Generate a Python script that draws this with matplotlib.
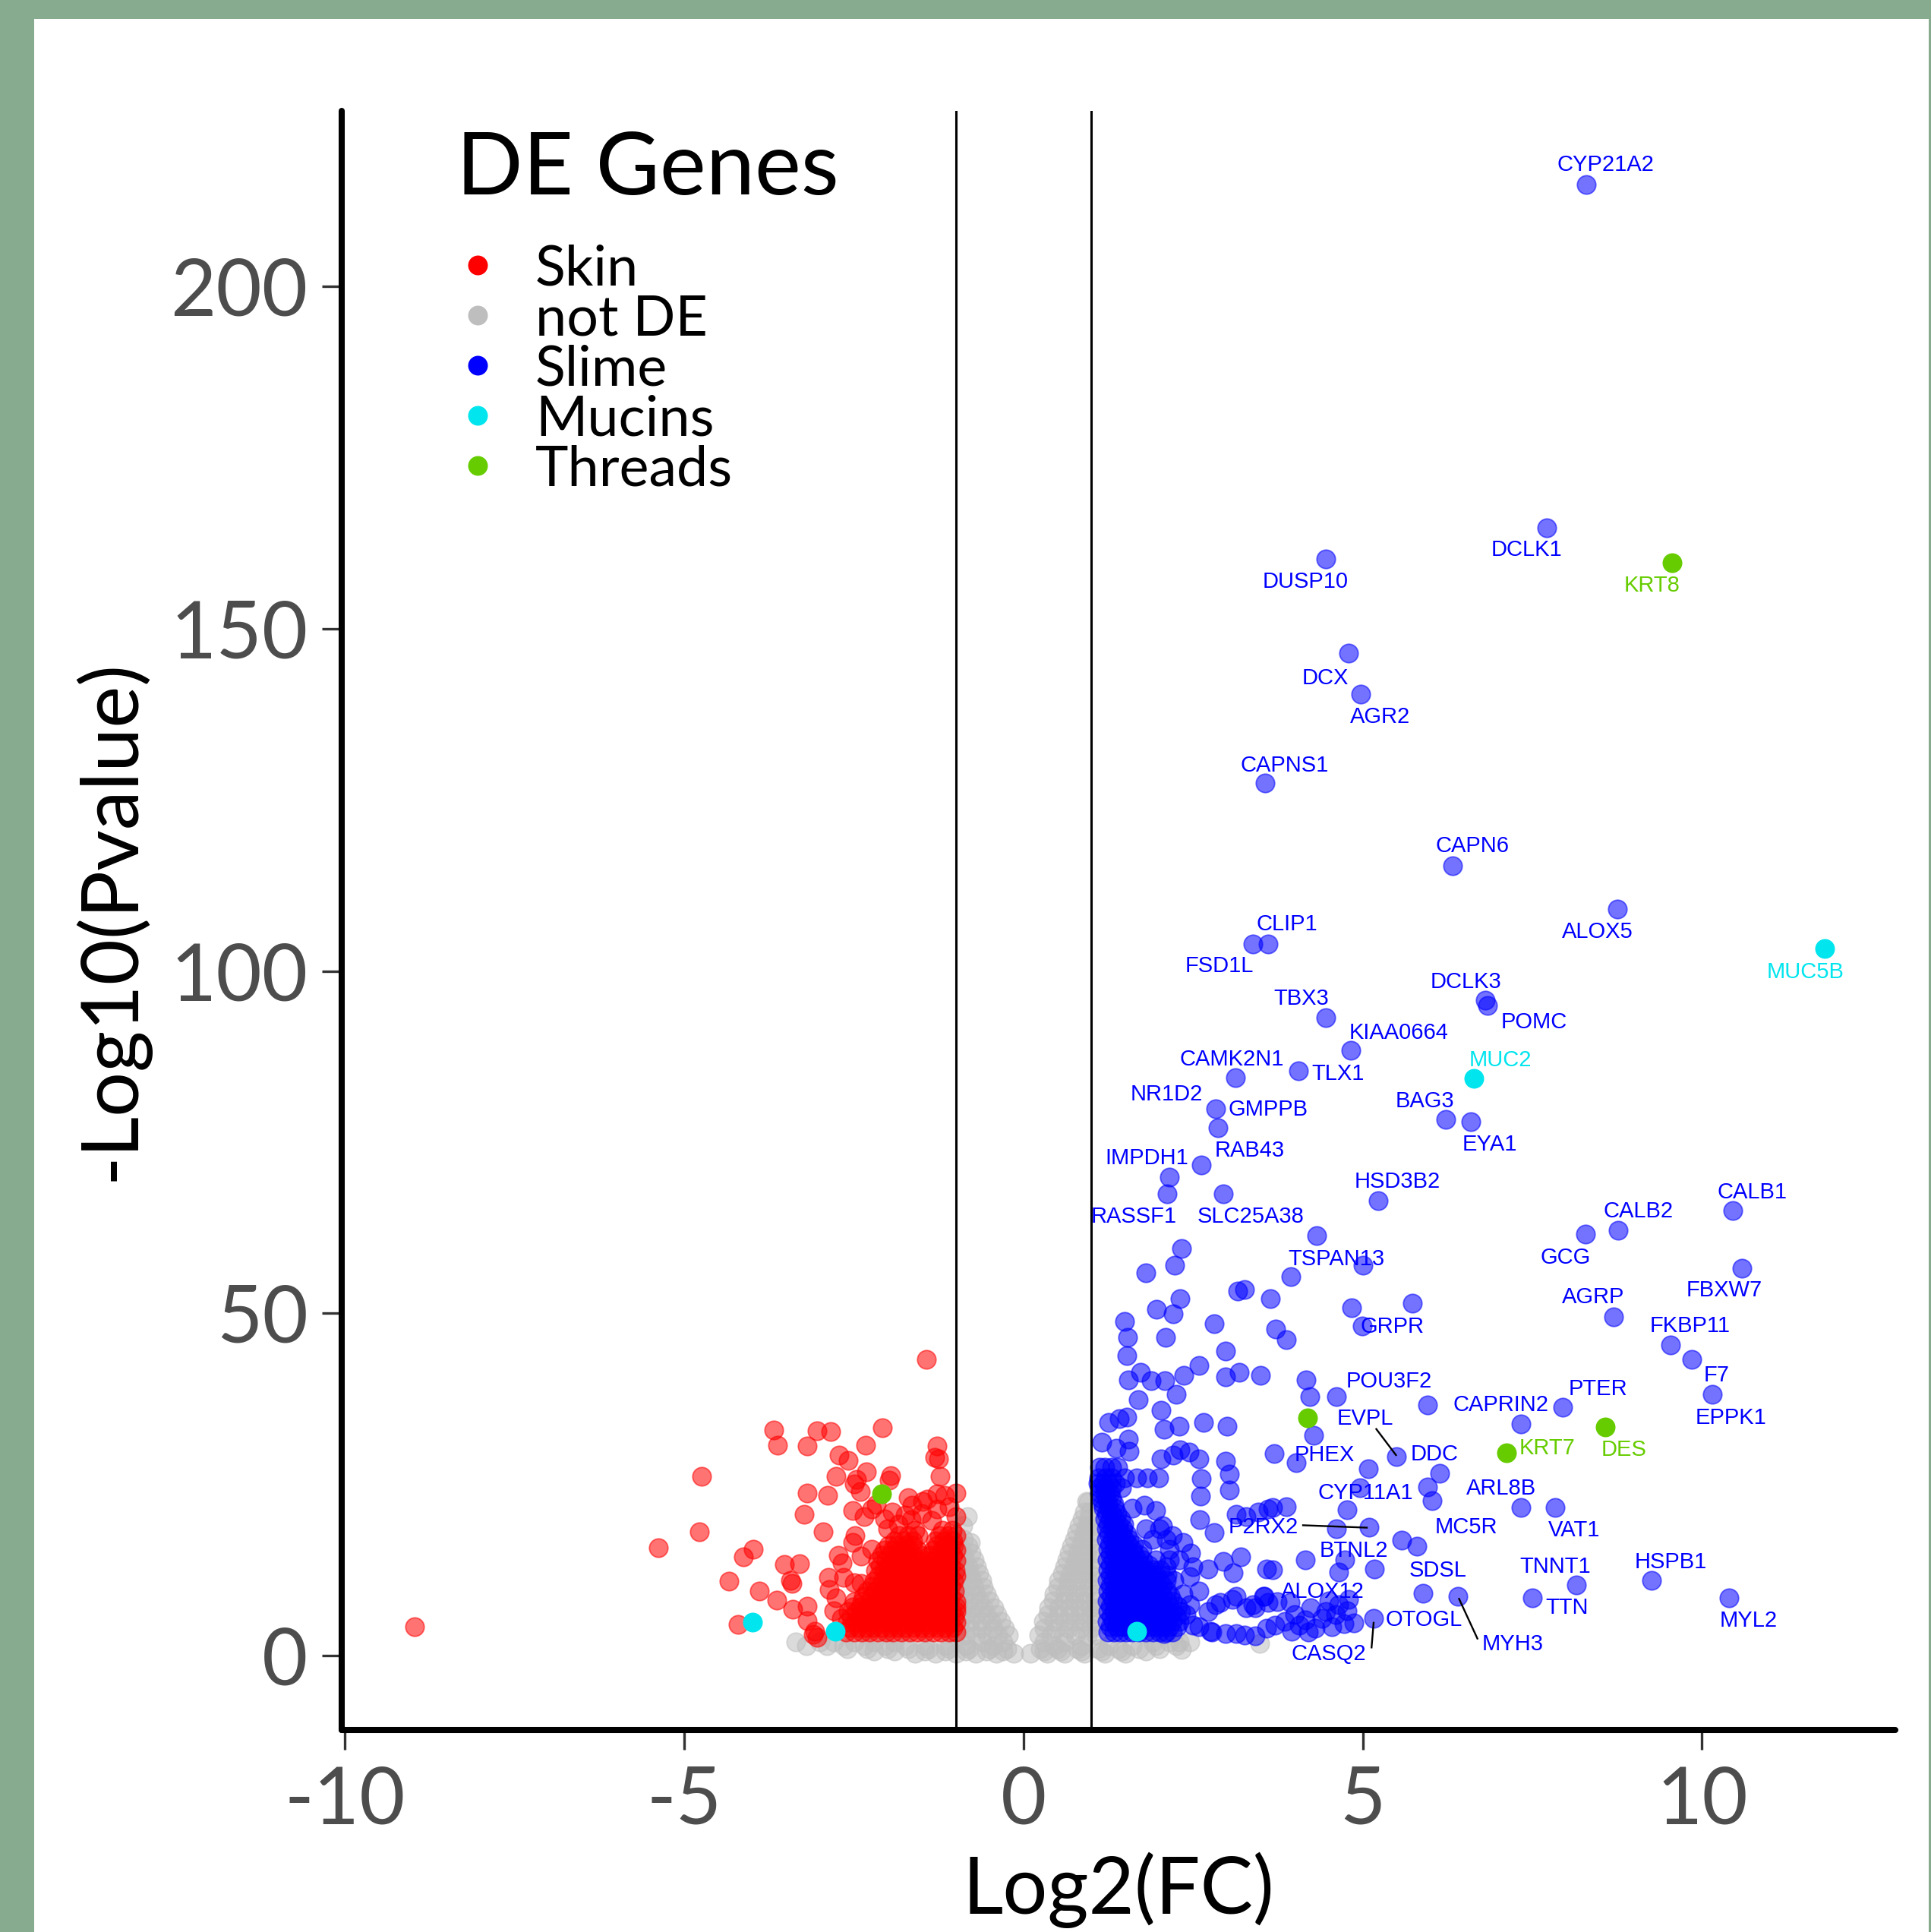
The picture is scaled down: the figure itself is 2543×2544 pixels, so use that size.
import numpy as np
import matplotlib
matplotlib.use("Agg")
from matplotlib import pyplot as plt
from matplotlib import transforms
from matplotlib.patches import Rectangle

plt.rcParams['font.family'] = ['Lato', 'DejaVu Sans']

# ---- data: (log2 FC, -log10 p) ----
skin_pts = [(-8.98, 4.2), (-1.43, 43.3),
            (-3.68, 33.0), (-3.63, 30.7), (-3.04, 32.9), (-2.84, 32.7), (-3.19, 30.6), (-2.08, 33.3), (-2.33, 30.7),
            (-2.72, 29.3), (-2.58, 28.5), (-2.76, 26.2), (-2.46, 25.8), (-2.32, 26.9), (-1.96, 26.3), (-1.98, 25.6),
            (-1.27, 30.6), (-1.31, 29.0), (-1.25, 28.8), (-1.23, 26.2), (-4.74, 26.2),
            (-3.19, 23.7), (-2.89, 23.4), (-2.50, 25.1), (-2.41, 24.0),
            (-1.70, 23.1), (-1.64, 22.0), (-1.49, 22.5), (-1.42, 22.9), (-1.27, 23.6), (-1.16, 23.4), (-0.99, 23.8),
            (-3.23, 20.7), (-2.52, 21.2), (-2.35, 20.3), (-2.24, 21.4), (-2.95, 18.1), (-1.94, 21.0), (-1.85, 19.2),
            (-1.66, 19.9), (-1.27, 21.4), (-0.99, 20.3), (-2.17, 22.1), (-2.05, 20.0), (-2.0, 18.5), (-1.75, 20.5),
            (-1.50, 20.8), (-1.35, 19.8), (-1.10, 21.8),
            (-4.78, 18.1), (-5.38, 15.8), (-3.98, 15.6), (-4.13, 14.4),
            (-2.48, 17.5), (-2.52, 16.6), (-2.73, 14.7), (-2.67, 13.6), (-2.39, 14.5), (-2.24, 15.5),
            (-3.53, 13.3), (-3.30, 13.4), (-3.43, 11.0), (-3.41, 10.5), (-4.34, 10.9), (-3.89, 9.4),
            (-2.87, 11.4), (-2.86, 9.7), (-2.65, 11.4), (-2.50, 10.7), (-2.39, 10.5),
            (-3.64, 8.1), (-3.40, 6.8), (-3.19, 7.2), (-3.19, 5.1), (-3.08, 3.6), (-3.04, 2.7), (-3.10, 3.1),
            (-2.69, 5.5), (-2.80, 6.6), (-2.76, 8.5), (-4.21, 4.6)]

# dense part of the skin cloud, row by row (y, x values)
skin_core = [(3.4, [-2.62, -2.5, -2.38, -2.27, -2.15, -2.03, -1.92, -1.8, -1.68, -1.57, -1.45, -1.33, -1.22, -1.1, -1.0]),
             (4.15, [-2.56, -2.44, -2.32, -2.21, -2.09, -1.97, -1.86, -1.74, -1.62, -1.51, -1.39, -1.27, -1.16, -1.04]),
             (4.9, [-2.6, -2.48, -2.36, -2.25, -2.13, -2.01, -1.9, -1.78, -1.66, -1.55, -1.43, -1.31, -1.2, -1.08, -1.0]),
             (5.65, [-2.54, -2.42, -2.3, -2.19, -2.07, -1.95, -1.84, -1.72, -1.6, -1.49, -1.37, -1.25, -1.14, -1.02]),
             (6.4, [-2.58, -2.46, -2.34, -2.23, -2.11, -1.99, -1.88, -1.76, -1.64, -1.53, -1.41, -1.29, -1.18, -1.06, -1.0]),
             (7.15, [-2.52, -2.4, -2.29, -2.17, -2.05, -1.94, -1.82, -1.7, -1.59, -1.47, -1.35, -1.24, -1.12, -1.0]),
             (7.9, [-2.5, -2.38, -2.27, -2.15, -2.03, -1.92, -1.8, -1.68, -1.57, -1.45, -1.33, -1.22, -1.1, -1.0]),
             (8.65, [-2.36, -2.24, -2.12, -2.0, -1.89, -1.77, -1.65, -1.54, -1.42, -1.3, -1.19, -1.07]),
             (9.4, [-2.3, -2.18, -2.06, -1.95, -1.83, -1.71, -1.6, -1.48, -1.36, -1.25, -1.13, -1.02]),
             (10.15, [-2.24, -2.12, -2.01, -1.89, -1.77, -1.66, -1.54, -1.42, -1.31, -1.19, -1.07]),
             (10.9, [-2.2, -2.08, -1.96, -1.85, -1.73, -1.61, -1.5, -1.38, -1.26, -1.15, -1.03]),
             (11.65, [-2.14, -2.02, -1.9, -1.79, -1.67, -1.55, -1.44, -1.32, -1.2, -1.09, -1.0]),
             (12.4, [-2.18, -2.06, -1.94, -1.83, -1.71, -1.59, -1.48, -1.36, -1.24, -1.13, -1.01]),
             (13.15, [-2.12, -2.0, -1.88, -1.77, -1.65, -1.53, -1.42, -1.3, -1.18, -1.07]),
             (13.9, [-2.15, -2.03, -1.91, -1.8, -1.68, -1.56, -1.45, -1.33, -1.21, -1.1, -1.0]),
             (14.65, [-2.09, -1.97, -1.85, -1.74, -1.62, -1.5, -1.39, -1.27, -1.15, -1.04]),
             (15.4, [-2.05, -1.93, -1.81, -1.69, -1.57, -1.33, -1.21, -1.09, -1.0]),
             (16.1, [-1.99, -1.87, -1.75, -1.63, -1.27, -1.15, -1.03]),
             (16.8, [-1.9, -1.77, -1.63, -1.3, -1.17, -1.04]),
             (17.5, [-1.83, -1.7, -1.56, -1.24, -1.11, -1.0]),
             (18.3, [-1.6, -1.2, -1.05])]

notde_pts = [(3.48, 1.8), (2.33, 0.9), (-0.78, 16.6), (-0.83, 20.3), (0.93, 22.5)]
notde_core = [(0.3, [-1.6, -1.3, -1.0, -0.7, -0.4, -0.15, 0.1, 0.35, 0.6, 0.9, 1.2, 1.5]),
              (0.65, [-2.2, -1.9, -1.45, -1.15, -0.85, -0.55, -0.3, 0.3, 0.55, 0.85, 1.15, 1.45, 1.8]),
              (1.0, [-2.6, -2.3, -2.0, -1.7, -1.4, -1.1, -0.8, -0.5, -0.25, 0.25, 0.5, 0.8, 1.1, 1.4, 1.7, 2.0]),
              (1.5, [-3.2, -2.9, -2.65, -2.35, -2.05, -1.75, -1.45, -1.15, -0.85, -0.45, 0.45, 0.85, 1.25, 1.6,
                     1.95, 2.25]),
              (2.0, [-3.36, -3.0, -2.8, -2.5, -2.2, -1.9, -0.6, -0.3, 0.3, 0.6, 1.9, 2.15, 2.3, 2.45]),
              (3.0, [0.22, 0.4, 0.58, 0.76, 0.94, 1.08, -0.22, -0.38, -0.54, -0.7, -0.86, -1.0]),
              (4.0, [0.3, 0.48, 0.66, 0.84, 1.0, -0.28, -0.45, -0.62, -0.79, -0.95]),
              (5.0, [0.29, 0.45, 0.6, 0.75, 0.9, 1.05, -0.33, -0.48, -0.63, -0.78, -0.93]),
              (6.0, [0.36, 0.52, 0.68, 0.84, 1.0, -0.39, -0.55, -0.7, -0.85, -1.0]),
              (7.0, [0.37, 0.52, 0.67, 0.82, 0.97, 1.1, -0.44, -0.59, -0.74, -0.89]),
              (8.0, [0.44, 0.6, 0.75, 0.9, 1.05, -0.5, -0.65, -0.8, -0.95]),
              (9.0, [0.45, 0.6, 0.75, 0.9, 1.04, -0.55, -0.7, -0.85, -0.98]),
              (10.0, [0.5, 0.65, 0.8, 0.95, -0.59, -0.73, -0.87, -1.0]),
              (11.0, [0.52, 0.66, 0.8, 0.94, 1.08, -0.62, -0.76, -0.9]),
              (12.0, [0.57, 0.7, 0.84, 0.97, -0.66, -0.79, -0.92]),
              (13.0, [0.6, 0.74, 0.88, 1.0, -0.69, -0.82, -0.95]),
              (14.0, [0.64, 0.77, 0.9, 1.02, -0.73, -0.86, -0.98]),
              (15.0, [0.67, 0.8, 0.93, 1.05, -0.77, -0.9]),
              (16.0, [0.71, 0.84, 0.96, -0.82, -0.94]),
              (17.0, [0.75, 0.87, 0.98, -0.88, -0.98]),
              (18.0, [0.79, 0.9, 1.0]),
              (19.0, [0.82, 0.93, 1.02, -0.9]),
              (20.0, [0.86, 0.96]),
              (21.0, [0.9, 0.98]),
              (22.4, [0.95])]

slime_pts = [(8.29, 214.9), (7.71, 164.7), (4.46, 160.2), (4.79, 146.4), (4.97, 140.4), (3.56, 127.5), (6.33, 115.4),
             (8.75, 109.1), (3.61, 104.0), (3.38, 104.0), (6.81, 95.8), (6.84, 95.0), (4.46, 93.2), (4.82, 88.4),
             (3.12, 84.4), (4.05, 85.4), (2.83, 79.9), (2.87, 77.1), (2.62, 71.7), (2.15, 69.9), (2.12, 67.5),
             (2.95, 67.5), (5.23, 66.5), (6.22, 78.3), (6.59, 78.0), (4.32, 61.4), (5.00, 57.0), (8.28, 61.6),
             (8.77, 62.1), (10.45, 65.0), (10.59, 56.6), (8.70, 49.5), (9.54, 45.4), (9.85, 43.3), (10.15, 38.2),
             (7.95, 36.3), (7.33, 33.8), (7.33, 21.7), (7.84, 21.7), (8.15, 10.3), (7.50, 8.5), (9.26, 11.0),
             (10.40, 8.5), (6.40, 8.7),
             (2.33, 59.5), (2.23, 57.0), (1.80, 55.9), (2.31, 52.1), (1.96, 50.6), (2.21, 49.9), (1.49, 48.8),
             (1.53, 46.5), (1.52, 43.8), (2.09, 46.5), (2.81, 48.5), (2.98, 44.5), (3.16, 53.3), (3.26, 53.5),
             (3.64, 52.2), (3.72, 47.7), (3.87, 46.2), (3.94, 55.4), (4.84, 50.8), (5.73, 51.5), (4.99, 48.2),
             (1.72, 41.4), (1.54, 40.3), (1.88, 40.2), (2.08, 40.2), (2.36, 40.9), (2.59, 42.4), (2.25, 38.2),
             (1.69, 37.4), (2.03, 35.8), (2.07, 33.1), (2.29, 33.5), (2.65, 34.1), (3.00, 33.5), (2.98, 40.7),
             (3.18, 41.4), (3.49, 40.9), (4.17, 40.3), (4.22, 37.8), (4.61, 37.8), (5.96, 36.6),
             (1.26, 34.1), (1.41, 34.6), (1.52, 34.8), (1.15, 31.2), (1.37, 30.3), (1.54, 31.6), (1.56, 29.9),
             (2.03, 28.8), (2.21, 29.3), (2.31, 30.1), (2.44, 29.7), (2.59, 28.8), (2.62, 25.9), (2.61, 23.3),
             (2.98, 28.4), (3.03, 26.5), (3.03, 24.2), (3.70, 29.5), (4.02, 28.2), (4.28, 32.2), (5.08, 27.3),
             (6.13, 26.6), (5.95, 24.6), (6.02, 22.6), (4.96, 24.5), (4.77, 21.3), (5.50, 29.1),
             (2.60, 19.9), (2.81, 18.0), (3.13, 20.6), (3.28, 20.3), (3.46, 21.0), (3.61, 21.4), (3.67, 21.6),
             (3.87, 21.8), (5.09, 18.8), (4.61, 18.5), (5.58, 16.9), (5.80, 16.0), (4.74, 14.0), (4.65, 12.2),
             (4.15, 14.0), (5.17, 12.7), (5.89, 9.1), (5.16, 5.5),
             (2.46, 15.0), (2.72, 12.7), (2.94, 13.8), (3.09, 12.1), (3.20, 14.4), (3.58, 12.7), (3.67, 12.5),
             (2.59, 9.5), (2.83, 7.4), (2.72, 6.5), (2.90, 7.8), (3.13, 8.7), (3.28, 7.0), (3.41, 7.0), (3.54, 8.7),
             (3.61, 7.8), (2.59, 4.2), (2.75, 3.6), (2.98, 3.2), (3.13, 3.2), (3.26, 3.0), (3.58, 4.0), (3.71, 4.4),
             (2.07, 3.2), (4.79, 8.2), (4.77, 6.6), (4.87, 4.8), (4.72, 4.7), (3.93, 7.8), (4.23, 7.0), (4.45, 6.4),
             (4.06, 4.5), (3.55, 8.7), (3.74, 7.9), (3.38, 7.4), (3.08, 8.2), (3.42, 2.9), (2.78, 3.5),
             (3.85, 5.0), (4.0, 6.0), (4.15, 5.2), (4.3, 4.0), (4.4, 5.5), (4.55, 4.2), (4.6, 6.0), (4.2, 3.5),
             (3.95, 3.6), (4.5, 8.0), (4.65, 7.5),
             (2.05, 19.0), (2.2, 17.5), (2.35, 16.5), (2.15, 15.5), (2.3, 14.0), (2.5, 13.0), (2.1, 13.0),
             (1.78, 22.0), (1.95, 21.2), (2.35, 9.0), (2.45, 11.5), (2.4, 6.0), (2.5, 4.5), (2.45, 7.5)]

# dense part of the slime cloud, row by row (y, x values)
slime_core = [(3.5, [1.24, 1.33, 1.42, 1.51, 1.6, 1.7, 1.8, 1.9, 2.0, 2.1, 2.2]),
              (4.25, [1.28, 1.37, 1.46, 1.55, 1.65, 1.75, 1.85, 1.95, 2.05, 2.15, 2.26]),
              (5.0, [1.23, 1.32, 1.41, 1.5, 1.6, 1.7, 1.8, 1.9, 2.0, 2.1, 2.2, 2.3]),
              (5.75, [1.29, 1.38, 1.47, 1.56, 1.65, 1.75, 1.85, 1.95, 2.05, 2.15, 2.25]),
              (6.5, [1.24, 1.33, 1.42, 1.51, 1.6, 1.7, 1.8, 1.9, 2.0, 2.1, 2.2, 2.32]),
              (7.25, [1.28, 1.37, 1.46, 1.55, 1.65, 1.75, 1.85, 1.95, 2.05, 2.15, 2.27]),
              (8.0, [1.23, 1.32, 1.41, 1.5, 1.6, 1.7, 1.8, 1.9, 2.0, 2.1, 2.2]),
              (8.75, [1.29, 1.38, 1.47, 1.56, 1.65, 1.75, 1.85, 1.95, 2.05, 2.16]),
              (9.5, [1.24, 1.33, 1.42, 1.51, 1.6, 1.7, 1.8, 1.9, 2.0, 2.12]),
              (10.25, [1.28, 1.37, 1.46, 1.55, 1.65, 1.75, 1.85, 1.95, 2.05]),
              (11.0, [1.23, 1.32, 1.41, 1.5, 1.6, 1.7, 1.8, 1.9, 2.0, 2.1, 2.22]),
              (11.75, [1.28, 1.37, 1.46, 1.55, 1.65, 1.75, 1.85, 1.96, 2.12]),
              (12.5, [1.24, 1.33, 1.42, 1.51, 1.6, 1.7, 1.8, 1.9, 2.02]),
              (13.25, [1.28, 1.37, 1.46, 1.55, 1.65, 1.74, 1.85]),
              (14.0, [1.23, 1.32, 1.41, 1.5, 1.6, 1.68, 1.76, 1.95, 2.15]),
              (14.75, [1.28, 1.37, 1.46, 1.55, 1.64, 1.7]),
              (15.5, [1.24, 1.33, 1.42, 1.51, 1.6, 1.75]),
              (16.25, [1.27, 1.36, 1.45, 1.54, 1.62]),
              (17.0, [1.22, 1.31, 1.4, 1.49, 1.56, 1.9, 2.1]),
              (17.75, [1.26, 1.35, 1.44, 1.52]),
              (18.5, [1.22, 1.31, 1.4, 1.47, 1.8, 2.0]),
              (19.25, [1.24, 1.32, 1.4, 1.48]),
              (20.0, [1.2, 1.28, 1.36, 1.43]),
              (20.75, [1.22, 1.3, 1.38]),
              (21.5, [1.18, 1.26, 1.34, 1.6]),
              (22.25, [1.16, 1.24, 1.33]),
              (23.0, [1.14, 1.22, 1.3]),
              (23.75, [1.12, 1.2, 1.28]),
              (24.5, [1.12, 1.2, 1.3, 1.45]),
              (25.25, [1.1, 1.18, 1.26, 1.36]),
              (26.0, [1.11, 1.21, 1.30, 1.49, 1.67, 1.82, 1.99]),
              (27.5, [1.12, 1.2, 1.3, 1.39])]

mucin_pts = [(11.81, 103.3), (6.64, 84.3), (-3.99, 4.9), (-2.77, 3.6), (1.67, 3.6)]
thread_pts = [(9.56, 159.7), (7.12, 29.6), (8.57, 33.4), (4.19, 34.7), (-2.09, 23.6)]

# gene labels (text centre) and the group that sets their colour
gene_names = ["CYP21A2", "DCLK1", "KRT8", "DUSP10", "DCX", "AGR2", "CAPNS1", "CAPN6", "ALOX5", "MUC5B",
              "CLIP1", "FSD1L", "DCLK3", "POMC", "TBX3", "KIAA0664", "MUC2", "CAMK2N1", "TLX1", "NR1D2",
              "GMPPB", "BAG3", "EYA1", "RAB43", "IMPDH1", "HSD3B2", "RASSF1", "SLC25A38", "CALB1", "CALB2",
              "TSPAN13", "GCG", "FBXW7", "AGRP", "GRPR", "FKBP11", "F7", "POU3F2", "PTER", "CAPRIN2",
              "EPPK1", "EVPL", "KRT7", "DES", "PHEX", "DDC", "ARL8B", "CYP11A1", "P2RX2", "MC5R",
              "VAT1", "BTNL2", "HSPB1", "TNNT1", "SDSL", "ALOX12", "TTN", "OTOGL", "MYL2", "MYH3", "CASQ2"]
gene_lx = [8.58, 7.42, 9.26, 4.16, 4.45, 5.26, 3.85, 6.62, 8.46, 11.52,
           3.88, 2.89, 6.52, 7.52, 4.10, 5.53, 7.03, 3.07, 4.63, 2.11,
           3.61, 5.92, 6.87, 3.33, 1.82, 5.51, 1.62, 3.35, 10.74, 9.06,
           4.61, 7.99, 10.33, 8.40, 5.43, 9.82, 10.22, 5.39, 8.47, 7.04,
           10.43, 5.04, 7.72, 8.85, 4.44, 6.06, 7.04, 5.04, 3.54, 6.52,
           8.12, 4.87, 9.54, 7.84, 6.11, 4.41, 8.01, 5.90, 10.69, 7.21, 4.50]
gene_ly = [218.0, 161.8, 156.6, 157.2, 143.1, 137.4, 130.3, 118.5, 106.0, 100.1,
           107.1, 101.0, 98.7, 92.8, 96.3, 91.3, 87.3, 87.4, 85.3, 82.3,
           80.0, 81.3, 74.9, 74.1, 72.9, 69.5, 64.4, 64.4, 68.0, 65.2,
           58.2, 58.4, 53.7, 52.6, 48.3, 48.4, 41.2, 40.3, 39.2, 36.9,
           35.0, 34.9, 30.6, 30.4, 29.6, 29.7, 24.7, 24.0, 19.0, 19.0,
           18.6, 15.6, 13.9, 13.3, 12.7, 9.6, 7.3, 5.5, 5.4, 2.0, 0.5]
gene_group = {"KRT8": "Threads", "KRT7": "Threads", "DES": "Threads", "MUC5B": "Mucins", "MUC2": "Mucins"}

# repel segments from label to point
seg_x0 = [5.20, 4.12, 5.13, 6.42]
seg_y0 = [33.1, 19.05, 1.2, 8.3]
seg_x1 = [5.49, 5.06, 5.16, 6.69]
seg_y1 = [29.3, 18.7, 4.8, 2.5]

legend_labels = ["Skin", "not DE", "Slime", "Mucins", "Threads"]
colors = {"Skin": "#FF0000", "not DE": "#BEBEBE", "Slime": "#0000FF", "Mucins": "#00E5EE", "Threads": "#66CC00"}


def expand(pts, rows=()):
    xs = [p[0] for p in pts]
    ys = [p[1] for p in pts]
    for y, row in rows:
        xs += row
        ys += [y] * len(row)
    return np.array(xs), np.array(ys)


W, H = 2543, 2544
fig = plt.figure(figsize=(W / 100, H / 100), dpi=100, facecolor="#87AB8E")
fig.patches.append(Rectangle((45 / W, 0), (2540 - 45) / W, 1 - 25 / H, transform=fig.transFigure,
                             facecolor="white", edgecolor="none", zorder=-1))

ax = fig.add_axes([450 / W, (H - 2277.5) / H, 2046 / W, 2131.5 / H])
ax.set_facecolor("white")

cloud = dict(s=310, alpha=0.55, linewidths=1.3, zorder=2)
for name, pts, rows in [("not DE", notde_pts, notde_core), ("Skin", skin_pts, skin_core),
                        ("Slime", slime_pts, slime_core)]:
    x, y = expand(pts, rows)
    ax.scatter(x, y, color=colors[name], edgecolors=colors[name], **cloud)

for name, pts in [("Mucins", mucin_pts), ("Threads", thread_pts)]:
    x, y = expand(pts)
    ax.scatter(x, y, s=350, color=colors[name], linewidths=0, zorder=4)

ax.axvline(-1, color="black", lw=2.2, zorder=3)
ax.axvline(1, color="black", lw=2.2, zorder=3)

# labels: centre of capitals sits on the given y
lab_tr = transforms.offset_copy(ax.transData, fig=fig, x=0, y=-10.5, units="dots")
for g, lx, ly in zip(gene_names, gene_lx, gene_ly):
    c = colors[gene_group.get(g, "Slime")]
    ax.text(lx, ly, g, transform=lab_tr, ha="center", va="baseline", color=c,
            fontsize=21, family=["Liberation Sans", "DejaVu Sans"], zorder=5)
for x0, y0, x1, y1 in zip(seg_x0, seg_y0, seg_x1, seg_y1):
    ax.plot([x0, x1], [y0, y1], color="black", lw=1.7, zorder=5)

ax.set_xlim(-10.05, 12.85)
ax.set_ylim(-10.8, 225.65)
ax.set_xticks([-10, -5, 0, 5, 10], labels=["-10", "-5", "0", "5", "10"])
ax.set_yticks([0, 50, 100, 150, 200], labels=["0", "50", "100", "150", "200"])
for side in ["top", "right"]:
    ax.spines[side].set_visible(False)
for side in ["left", "bottom"]:
    ax.spines[side].set_linewidth(5.8)
    ax.spines[side].set_color("black")
    ax.spines[side].set_capstyle("round")
ax.tick_params(length=19, width=2.4, color="#333333", labelsize=75, labelcolor="#4D4D4D")
ax.tick_params(axis="x", pad=15)
ax.tick_params(axis="y", pad=13)

ax.set_xlabel("Log2(FC)", fontsize=75, color="black", va="baseline")
ax.xaxis.set_label_coords(0.5, (2277.5 - 2520) / 2131.5)
ax.set_ylabel("-Log10(Pvalue)", fontsize=75, color="black", va="baseline")
ax.yaxis.set_label_coords((177 - 450) / 2046, 0.5)

# legend drawn by hand, in figure pixels
fig.text(601 / W, 1 - 255.7 / H, "DE Genes", fontsize=83, ha="left", va="baseline")
row_y = [348.6, 414.6, 480.7, 546.8, 612.9]
for lab, ry in zip(legend_labels, row_y):
    ax.scatter([629.2 / W], [1 - ry / H], s=350, color=colors[lab], linewidths=0,
               transform=fig.transFigure, clip_on=False, zorder=6)
    fig.text(705 / W, 1 - (ry + 26.8) / H, lab, fontsize=53, ha="left", va="baseline")

fig.savefig("out.png", dpi=100, facecolor=fig.get_facecolor())
